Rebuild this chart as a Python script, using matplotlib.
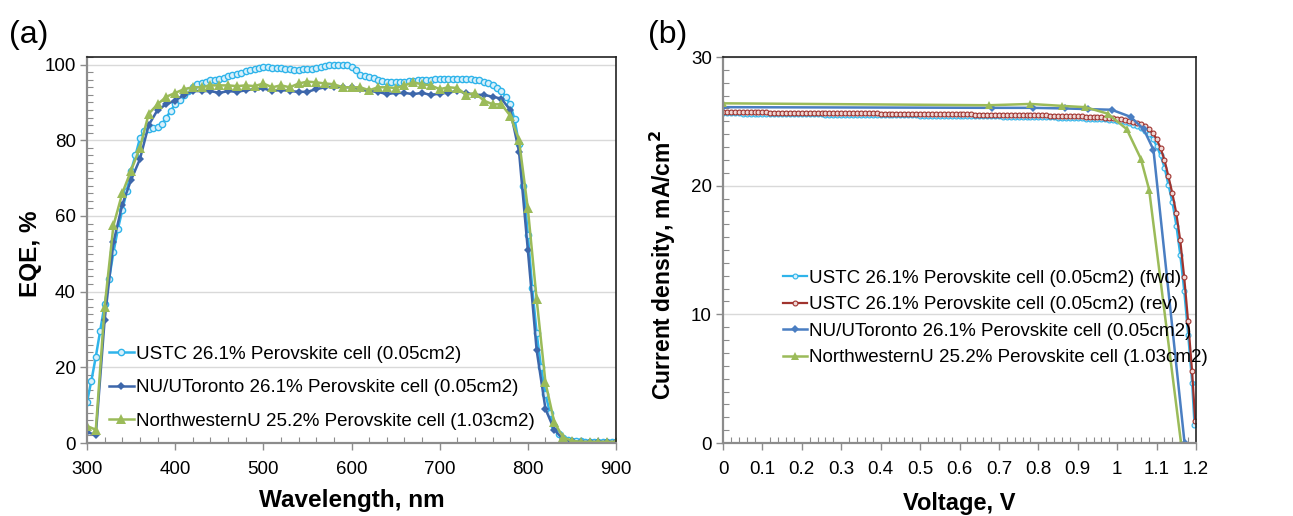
import numpy as np
import matplotlib
matplotlib.use('Agg')
from matplotlib import pyplot as plt
from matplotlib.ticker import MultipleLocator

plt.rcParams['font.family'] = ['Liberation Sans', 'DejaVu Sans']

# ---- (a) EQE data ----
eqe_ustc = [10.8, 16.5, 22.8, 29.7, 36.6, 43.3, 50.4, 56.5, 61.5, 66.5,
            72.0, 76.0, 80.5, 82.5, 83.0, 83.2, 83.5, 84.2, 86.0, 87.8,
            89.5, 90.7, 92.0, 93.0, 94.0, 94.8, 95.2, 95.5, 95.8, 96.0,
            96.2, 96.5, 97.0, 97.2, 97.5, 97.8, 98.2, 98.5, 98.8, 99.0,
            99.3, 99.4, 99.2, 99.0, 99.0, 98.8, 98.8, 98.6, 98.6, 98.8,
            98.8, 98.7, 99.0, 99.3, 99.6, 99.8, 99.8, 99.9, 100.0, 99.8,
            99.3, 98.5, 97.2, 97.0, 96.8, 96.5, 96.0, 95.7, 95.5, 95.4,
            95.4, 95.4, 95.5, 95.6, 95.7, 95.8, 96.0, 96.0, 96.0, 96.2,
            96.3, 96.2, 96.1, 96.1, 96.1, 96.1, 96.1, 96.1, 96.0, 95.8,
            95.5, 95.0, 94.5, 93.8, 93.0, 91.5, 89.5, 85.5, 79.0, 68.0,
            55.0, 41.0, 29.0, 20.0, 13.0, 8.0, 4.5, 2.5, 1.2, 0.7,
            0.5, 0.4, 0.4, 0.3, 0.3, 0.3, 0.3, 0.3, 0.3, 0.3, 0.3]
eqe_nu = [2.8, 2.2, 32.5, 53.0, 63.0, 69.5, 75.0, 84.0, 88.0, 89.5,
          90.5, 92.0, 93.0, 93.0, 93.0, 92.5, 93.0, 92.8, 93.2, 93.5,
          93.7, 93.0, 93.3, 93.0, 92.8, 92.8, 93.5, 94.0, 94.2, 94.0,
          94.0, 93.5, 93.0, 92.8, 92.2, 92.5, 92.5, 92.2, 92.5, 92.0,
          92.3, 92.6, 93.0, 92.5, 92.0, 92.0, 91.5, 91.0, 88.0, 77.0,
          51.0, 24.5, 9.0, 3.5, 1.0, 0.4, 0.3, 0.3, 0.3, 0.3, 0.3]
eqe_nw = [4.5, 3.5, 36.0, 57.5, 66.0, 72.0, 78.0, 87.0, 89.5, 91.5,
          92.5, 93.5, 94.0, 94.0, 94.5, 94.5, 94.5, 94.3, 94.5, 94.3,
          95.0, 94.0, 94.5, 94.0, 95.0, 95.5, 95.3, 95.0, 94.8, 94.0,
          94.0, 94.0, 93.2, 94.0, 94.0, 93.8, 94.5, 95.3, 94.8, 94.5,
          93.5, 94.0, 93.8, 92.0, 92.5, 90.5, 89.5, 89.5, 86.5, 80.0,
          62.0, 38.0, 16.0, 5.5, 1.5, 0.6, 0.3, 0.3, 0.3, 0.3, 0.3]
wl_ustc = 300 + 5 * np.arange(len(eqe_ustc))
wl_nu = 300 + 10 * np.arange(len(eqe_nu))
wl_nw = 300 + 10 * np.arange(len(eqe_nw))

# ---- (b) J-V data ----
j_fwd = [25.62, 25.62, 25.61, 25.61, 25.61, 25.60, 25.60, 25.60, 25.59, 25.59,
         25.59, 25.58, 25.58, 25.58, 25.57, 25.57, 25.57, 25.56, 25.56, 25.56,
         25.55, 25.55, 25.55, 25.54, 25.54, 25.54, 25.53, 25.53, 25.53, 25.52,
         25.52, 25.52, 25.51, 25.51, 25.51, 25.50, 25.50, 25.50, 25.49, 25.49,
         25.49, 25.48, 25.48, 25.48, 25.47, 25.47, 25.47, 25.46, 25.46, 25.46,
         25.45, 25.45, 25.45, 25.44, 25.44, 25.44, 25.43, 25.43, 25.43, 25.42,
         25.42, 25.42, 25.41, 25.41, 25.40, 25.40, 25.40, 25.39, 25.39, 25.38,
         25.38, 25.37, 25.37, 25.36, 25.36, 25.35, 25.35, 25.34, 25.34, 25.33,
         25.33, 25.32, 25.31, 25.31, 25.30, 25.29, 25.28, 25.27, 25.26, 25.25,
         25.24, 25.23, 25.22, 25.21, 25.20, 25.18, 25.17, 25.15, 25.13, 25.10,
         25.06, 25.00, 24.93, 24.85, 24.75, 24.63, 24.48, 24.28, 24.02, 23.65,
         23.10, 22.35, 21.40, 20.05, 18.70, 16.90, 14.60, 11.80, 8.40, 4.70,
         1.40]
j_rev = [25.72, 25.72, 25.71, 25.71, 25.71, 25.70, 25.70, 25.70, 25.70, 25.69,
         25.69, 25.69, 25.68, 25.68, 25.68, 25.68, 25.67, 25.67, 25.67, 25.66,
         25.66, 25.66, 25.66, 25.65, 25.65, 25.65, 25.64, 25.64, 25.64, 25.64,
         25.63, 25.63, 25.63, 25.62, 25.62, 25.62, 25.62, 25.61, 25.61, 25.61,
         25.60, 25.60, 25.60, 25.60, 25.59, 25.59, 25.59, 25.58, 25.58, 25.58,
         25.58, 25.57, 25.57, 25.57, 25.56, 25.56, 25.56, 25.56, 25.55, 25.55,
         25.55, 25.54, 25.54, 25.54, 25.53, 25.53, 25.53, 25.52, 25.52, 25.52,
         25.51, 25.51, 25.50, 25.50, 25.50, 25.49, 25.49, 25.48, 25.48, 25.47,
         25.47, 25.46, 25.46, 25.45, 25.44, 25.44, 25.43, 25.42, 25.41, 25.40,
         25.39, 25.38, 25.37, 25.36, 25.34, 25.33, 25.31, 25.29, 25.27, 25.25,
         25.22, 25.17, 25.11, 25.04, 24.96, 24.87, 24.76, 24.62, 24.42, 24.12,
         23.62, 22.92, 22.00, 20.72, 19.40, 17.85, 15.75, 12.90, 9.45, 5.60,
         1.70]
v_fwd = np.append(np.arange(0, 120) / 100, 1.196)
v_rev = np.append(np.arange(0, 120) / 100, 1.198)
v_nu = [0, 0.682, 0.786, 0.868, 0.927, 0.986, 1.034, 1.067, 1.092, 1.171]
j_nu = [26.1, 26.05, 26.05, 26.0, 25.95, 25.9, 25.35, 24.4, 22.8, 0]
v_nw = [0, 0.675, 0.780, 0.861, 0.919, 0.976, 1.024, 1.060, 1.081, 1.162]
j_nw = [26.4, 26.25, 26.35, 26.2, 26.1, 25.6, 24.4, 22.1, 19.7, 0]

c_ustc = '#2fb4ea'
c_rev = '#a0332e'
c_nu_a = '#3d67ab'
c_nu_b = '#4a7ec2'
c_nw = '#9bbb59'

fig = plt.figure(figsize=(12.93, 5.16), dpi=100)


def style_axes(ax, tick_fs):
    ax.grid(axis='y', color='#d9d9d9', lw=1.0)
    ax.set_axisbelow(True)
    for s in ['top', 'right']:
        ax.spines[s].set_color('#222222')
        ax.spines[s].set_linewidth(1.2)
    for s in ['left', 'bottom']:
        ax.spines[s].set_color('#8c8c8c')
        ax.spines[s].set_linewidth(1.6)
    ax.tick_params(which='major', direction='out', length=5, width=1,
                   color='#8c8c8c', labelsize=tick_fs, pad=3)
    ax.tick_params(axis='x', which='major', pad=8)
    ax.tick_params(which='minor', direction='in', length=4, width=0.8,
                   color='#8c8c8c')
    ax.tick_params(top=False, right=False, which='both')


# ---- panel (a) ----
ax1 = fig.add_axes([87 / 1293, 73 / 516, 529 / 1293, 386 / 516])
ax1.plot(wl_ustc, eqe_ustc, '-o', color=c_ustc, lw=1.8, ms=4.5, mfc='#d8f0fb',
         mec=c_ustc, mew=1, label='USTC 26.1% Perovskite cell (0.05cm2)')
ax1.plot(wl_nu, eqe_nu, '-D', color=c_nu_a, lw=1.8, ms=4.5, mew=0,
         label='NU/UToronto 26.1% Perovskite cell (0.05cm2)')
ax1.plot(wl_nw, eqe_nw, '-^', color=c_nw, lw=1.8, ms=6.5, mew=0,
         label='NorthwesternU 25.2% Perovskite cell (1.03cm2)')
ax1.set_xlim(300, 900)
ax1.set_ylim(0, 102)
ax1.set_yticks([0, 20, 40, 60, 80, 100])
ax1.xaxis.set_major_locator(MultipleLocator(100))
ax1.xaxis.set_minor_locator(MultipleLocator(20))
ax1.yaxis.set_minor_locator(MultipleLocator(2))
style_axes(ax1, 13.5)
ax1.set_xlabel('Wavelength, nm', fontsize=17.5, fontweight='bold', labelpad=8)
ax1.set_ylabel('EQE, %', fontsize=17.5, fontweight='bold')
ax1.yaxis.set_label_coords(-0.086, 0.49)
ax1.legend(loc='upper left', bbox_to_anchor=(0.028, 0.272), frameon=False,
           fontsize=13.5, handlelength=1.3, handletextpad=0.1,
           labelspacing=0.87, borderaxespad=0)
fig.text(9 / 1293, 1 - 35 / 516, '(a)', fontsize=23, va='center', ha='left')

# ---- panel (b) ----
ax2 = fig.add_axes([723 / 1293, 73 / 516, 473 / 1293, 386 / 516])
ax2.plot(v_fwd, j_fwd, '-o', color=c_ustc, lw=1.6, ms=3.5, mfc='#d8f0fb',
         mec=c_ustc, mew=0.8, label='USTC 26.1% Perovskite cell (0.05cm2) (fwd)')
ax2.plot(v_rev, j_rev, '-o', color=c_rev, lw=1.6, ms=3.5, mfc='#f0d8d6',
         mec=c_rev, mew=0.8, label='USTC 26.1% Perovskite cell (0.05cm2) (rev)')
ax2.plot(v_nu, j_nu, '-D', color=c_nu_b, lw=1.8, ms=4.5, mew=0,
         label='NU/UToronto 26.1% Perovskite cell (0.05cm2)')
ax2.plot(v_nw, j_nw, '-^', color=c_nw, lw=1.8, ms=6, mew=0,
         label='NorthwesternU 25.2% Perovskite cell (1.03cm2)')
ax2.set_xlim(0, 1.2)
ax2.set_ylim(0, 30)
ax2.set_yticks([0, 10, 20, 30])
ax2.set_xticks(np.arange(0, 13) / 10)
ax2.set_xticklabels(['0', '0.1', '0.2', '0.3', '0.4', '0.5', '0.6', '0.7',
                     '0.8', '0.9', '1', '1.1', '1.2'])
ax2.xaxis.set_minor_locator(MultipleLocator(0.02))
ax2.yaxis.set_minor_locator(MultipleLocator(1))
style_axes(ax2, 13.5)
ax2.set_xlabel('Voltage, V', fontsize=17, fontweight='bold', labelpad=10)
ax2.set_ylabel('Current density, mA/cm$^\\mathbf{2}$', fontsize=16.5,
               fontweight='bold')
ax2.yaxis.set_label_coords(-0.095, 0.46)
ax2.legend(loc='upper left', bbox_to_anchor=(0.11, 0.468), frameon=False,
           fontsize=13.5, handlelength=1.3, handletextpad=0.1,
           labelspacing=0.5, borderaxespad=0)
fig.text(648 / 1293, 1 - 35 / 516, '(b)', fontsize=23, va='center', ha='left')

fig.savefig('out.png', dpi=100)
